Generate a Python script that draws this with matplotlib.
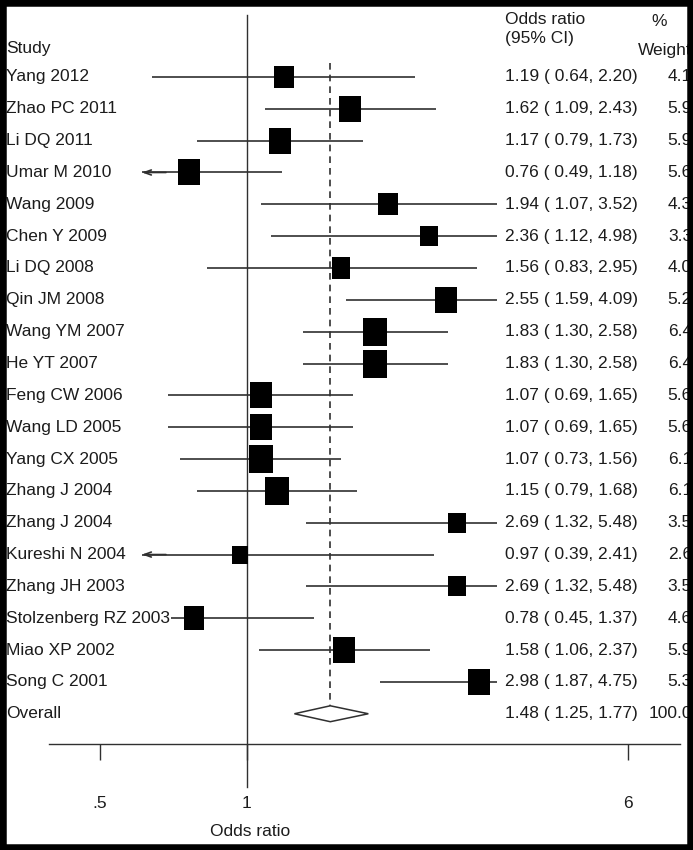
import matplotlib
matplotlib.use("Agg")
import matplotlib.pyplot as plt
import matplotlib.transforms as mtransforms
from matplotlib.patches import Rectangle
import numpy as np

studies = ["Yang 2012", "Zhao PC 2011", "Li DQ 2011", "Umar M 2010", "Wang 2009",
           "Chen Y 2009", "Li DQ 2008", "Qin JM 2008", "Wang YM 2007", "He YT 2007",
           "Feng CW 2006", "Wang LD 2005", "Yang CX 2005", "Zhang J 2004", "Zhang J 2004",
           "Kureshi N 2004", "Zhang JH 2003", "Stolzenberg RZ 2003", "Miao XP 2002", "Song C 2001"]
odds = [1.19, 1.62, 1.17, 0.76, 1.94, 2.36, 1.56, 2.55, 1.83, 1.83,
        1.07, 1.07, 1.07, 1.15, 2.69, 0.97, 2.69, 0.78, 1.58, 2.98]
ci_low = [0.64, 1.09, 0.79, 0.49, 1.07, 1.12, 0.83, 1.59, 1.30, 1.30,
          0.69, 0.69, 0.73, 0.79, 1.32, 0.39, 1.32, 0.45, 1.06, 1.87]
ci_high = [2.20, 2.43, 1.73, 1.18, 3.52, 4.98, 2.95, 4.09, 2.58, 2.58,
           1.65, 1.65, 1.56, 1.68, 5.48, 2.41, 5.48, 1.37, 2.37, 4.75]
# lower ends as drawn in the source figure (Stolzenberg's line stops short of 0.45 there)
line_low = [0.64, 1.09, 0.79, 0.49, 1.07, 1.12, 0.83, 1.59, 1.30, 1.30,
            0.69, 0.69, 0.73, 0.79, 1.32, 0.39, 1.32, 0.70, 1.06, 1.87]
weights = [4.1, 5.9, 5.9, 5.6, 4.3, 3.3, 4.0, 5.2, 6.4, 6.4,
           5.6, 5.6, 6.1, 6.1, 3.5, 2.6, 3.5, 4.6, 5.9, 5.3]
overall = (1.48, 1.25, 1.77, 100.0)
xticks = [0.5, 1, 6]
xtick_labels = [".5", "1", "6"]

W, H = 693, 850
FONT = ["Liberation Sans", "DejaVu Sans"]
TXT = "#1c1c1c"
LN = "#303030"
FS = 12.5

def fx(px):
    return px / W

def fy(py):
    return 1 - py / H

fig = plt.figure(figsize=(W / 100, H / 100), dpi=100)

# plot region: x axis line at y=744 px, rows start at 77 px with 31.84 px spacing
ax = fig.add_axes([fx(49), fy(744), fx(680) - fx(49), fy(5) - fy(744)])
ax.set_xscale("log")
ax.set_xlim(0.394, 7.67)
ax.set_ylim(20.95, -2.26)
for s in ["top", "left", "right"]:
    ax.spines[s].set_visible(False)
ax.spines["bottom"].set_color(LN)
ax.spines["bottom"].set_linewidth(1.0)
ax.set_yticks([])
ax.xaxis.set_minor_locator(matplotlib.ticker.NullLocator())
ax.set_xticks(xticks)
ax.set_xticklabels(xtick_labels, family=FONT, fontsize=FS, color=TXT)
ax.tick_params(axis="x", direction="out", length=11.5, width=1.0, color=LN, pad=26)

left_clip, right_clip = 0.61, 3.24
rows = np.arange(len(studies))

# no-effect line and overall estimate line
ax.plot([1, 1], [-1.95, 22.3], color=LN, lw=1.0, clip_on=False, zorder=1)
ax.plot([overall[0], overall[0]], [-0.44, 20], color=LN, lw=1.2,
        linestyle=(0, (4, 3)), zorder=1)

box = [(-0.43, -0.5), (0.43, -0.5), (0.43, 0.5), (-0.43, 0.5), (-0.43, -0.5)]
for i in rows:
    lo = max(line_low[i], left_clip)
    hi = min(ci_high[i], right_clip)
    ax.plot([lo, hi], [i, i], color=LN, lw=1.2, zorder=2, solid_capstyle="butt")
    if line_low[i] < left_clip:
        ax.annotate("", xy=(lo, i), xytext=(lo * 1.12, i),
                    arrowprops=dict(arrowstyle="->,head_length=0.5,head_width=0.18",
                                    color=LN, lw=1.2, shrinkA=0, shrinkB=0))
    ax.plot(odds[i], i, marker=box, markersize=7.9 * np.sqrt(weights[i]),
            color="black", markeredgewidth=0, zorder=3)

# overall diamond
ax.fill([overall[1], overall[0], overall[2], overall[0]],
        [20, 19.75, 20, 20.25], facecolor="white", edgecolor=LN, lw=1.1, zorder=4)

# text columns placed by figure x and data row
tr = mtransforms.blended_transform_factory(fig.transFigure, ax.transData)

def row_text(x_px, row, s, ha="left"):
    t = fig.text(fx(x_px), 0, s, transform=tr, family=FONT, fontsize=FS,
                 color=TXT, va="center", ha=ha)
    t.set_y(row)

for i in rows:
    row_text(6, i, studies[i])
    row_text(505, i, "{:.2f} ( {:.2f}, {:.2f})".format(odds[i], ci_low[i], ci_high[i]))
    row_text(692, i, "{:.1f}".format(weights[i]), ha="right")

row_text(6, 20, "Overall")
row_text(505, 20, "{:.2f} ( {:.2f}, {:.2f})".format(*overall[:3]))
row_text(692, 20, "{:.1f}".format(overall[3]), ha="right")

# headers
fig.text(fx(6), fy(48), "Study", family=FONT, fontsize=FS, color=TXT, va="center")
fig.text(fx(505), fy(19), "Odds ratio", family=FONT, fontsize=FS, color=TXT, va="center")
fig.text(fx(505), fy(39), "(95% CI)", family=FONT, fontsize=FS, color=TXT, va="center")
fig.text(fx(659), fy(22), "%", family=FONT, fontsize=FS, color=TXT, va="center", ha="center")
fig.text(fx(692), fy(50), "Weight", family=FONT, fontsize=FS, color=TXT, va="center", ha="right")
fig.text(fx(250), fy(832), "Odds ratio", family=FONT, fontsize=FS, color=TXT,
         va="center", ha="center")

# black frame around the picture
frame = Rectangle((0, 0), 1, 1, transform=fig.transFigure, fill=False,
                  edgecolor="black", lw=9, zorder=20)
fig.add_artist(frame)

fig.savefig("out.png", dpi=100, facecolor="white")
